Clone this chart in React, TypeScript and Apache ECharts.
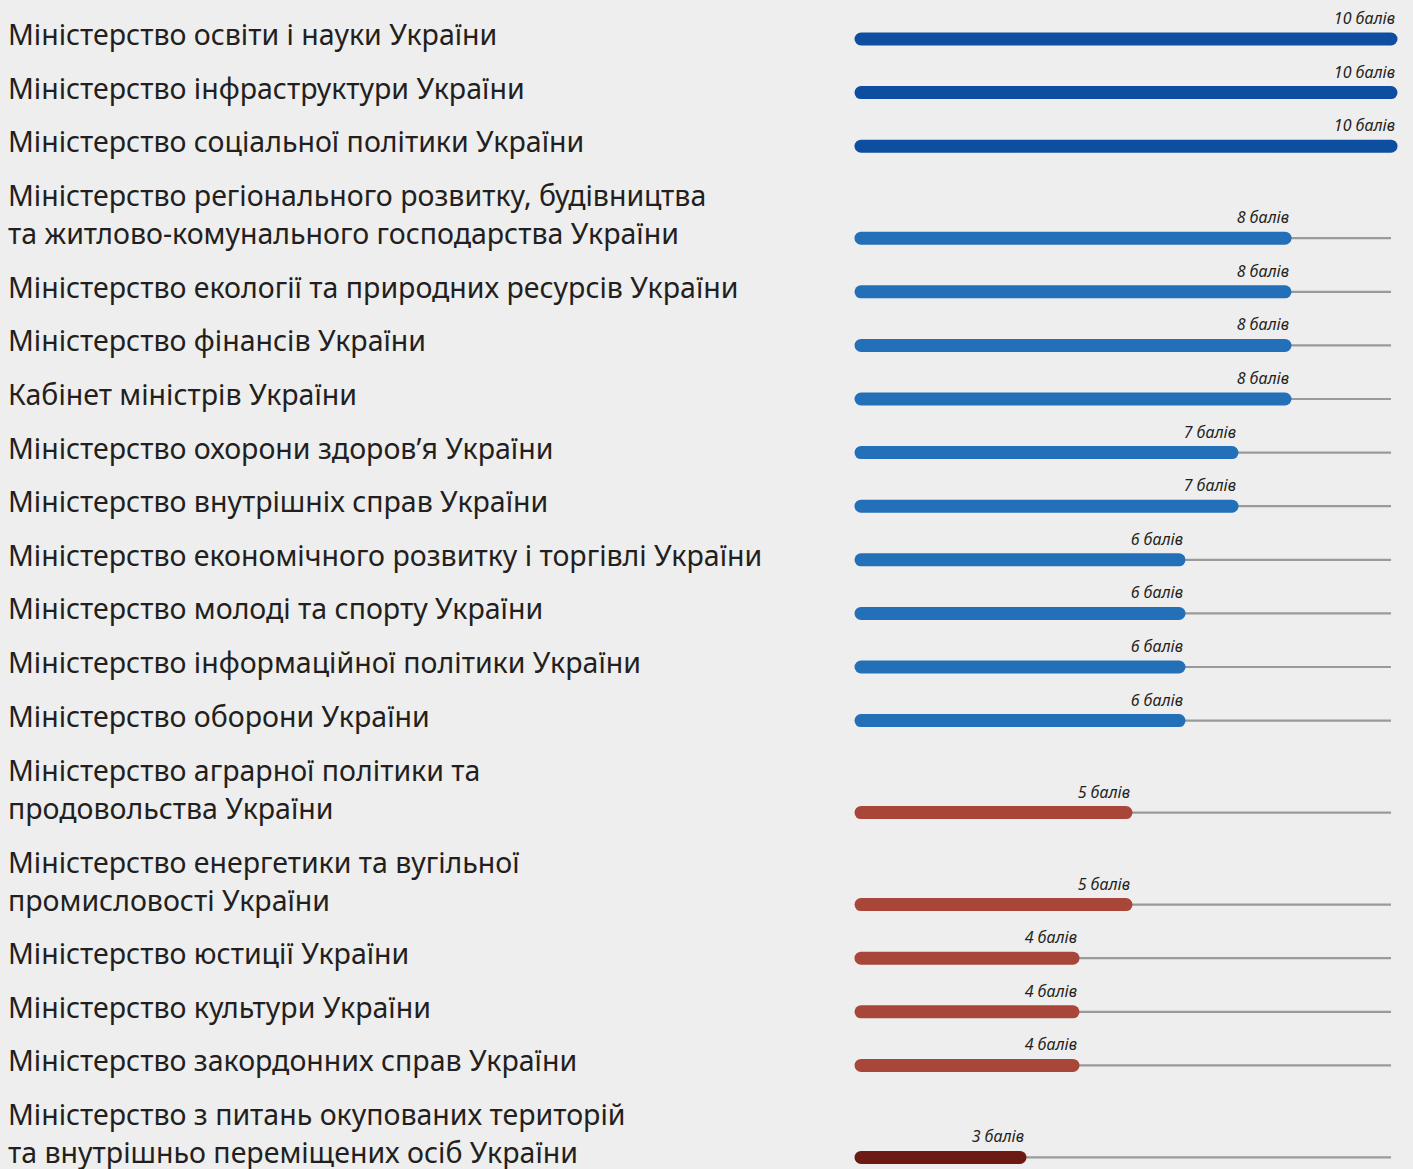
import React, { useEffect, useRef } from "react";
import * as echarts from "echarts";

const MINISTRIES: string[] = [
  "Міністерство освіти і науки України",
  "Міністерство інфраструктури України",
  "Міністерство соціальної політики України",
  "Міністерство регіонального розвитку, будівництва\nта житлово-комунального господарства України",
  "Міністерство екології та природних ресурсів України",
  "Міністерство фінансів України",
  "Кабінет міністрів України",
  "Міністерство охорони здоров’я України",
  "Міністерство внутрішніх справ України",
  "Міністерство економічного розвитку і торгівлі України",
  "Міністерство молоді та спорту України",
  "Міністерство інформаційної політики України",
  "Міністерство оборони України",
  "Міністерство аграрної політики та\nпродовольства України",
  "Міністерство енергетики та вугільної\nпромисловості України",
  "Міністерство юстиції України",
  "Міністерство культури України",
  "Міністерство закордонних справ України",
  "Міністерство з питань окупованих територій\nта внутрішньо переміщених осіб України",
];

const SCORES: number[] = [10, 10, 10, 8, 8, 8, 8, 7, 7, 6, 6, 6, 6, 5, 5, 4, 4, 4, 3];

const UNIT_LABEL = "балів";
const MAX_SCORE = 10;

// layout units: one text row, plus extra for each additional label line
const ROW_STEP = 53.6;
const EXTRA_LINE = 38.4;

function colorFor(score: number): string {
  if (score >= 10) return "#0e4ea0";
  if (score >= 6) return "#2370b9";
  if (score >= 4) return "#a84739";
  return "#6d1a14";
}

export default function App() {
  const ref = useRef<HTMLDivElement>(null);

  useEffect(() => {
    document.body.style.margin = "0";
    if (!ref.current) return;
    const chart = echarts.init(ref.current, null, { renderer: "svg" });

    const positions: number[] = [];
    let acc = 0;
    MINISTRIES.forEach((name, i) => {
      const lines = name.split("\n").length;
      if (i > 0) acc += ROW_STEP + (lines - 1) * EXTRA_LINE;
      positions.push(acc);
    });
    const data = SCORES.map((s, i) => [s, positions[i], i]);

    const option: any = {
      animation: false,
      backgroundColor: "#eeeeee",
      grid: { left: 861, right: 1413 - 1391, top: 39, height: positions[positions.length - 1], containLabel: false },
      xAxis: { type: "value", min: 0, max: MAX_SCORE, show: false },
      yAxis: { type: "value", min: 0, max: positions[positions.length - 1], inverse: true, show: false },
      series: [
        {
          type: "custom",
          clip: false,
          encode: { x: 0, y: 1 },
          data,
          renderItem: (params: any, api: any) => {
            const score = api.value(0);
            const pos = api.value(1);
            const idx = api.value(2);
            const start = api.coord([0, pos]);
            const end = api.coord([score, pos]);
            const full = api.coord([MAX_SCORE, pos]);
            const y = start[1];
            return {
              type: "group",
              children: [
                {
                  type: "line",
                  shape: { x1: start[0], y1: y, x2: full[0], y2: y },
                  style: { stroke: "#9a9a9a", lineWidth: 2.2 },
                },
                {
                  type: "line",
                  shape: { x1: start[0], y1: y, x2: end[0], y2: y },
                  style: { stroke: colorFor(score), lineWidth: 13, lineCap: "round" },
                },
                {
                  type: "text",
                  style: {
                    x: end[0] + 4,
                    y: y - 21,
                    text: `${score} ${UNIT_LABEL}`,
                    align: "right",
                    verticalAlign: "middle",
                    fontFamily: "Noto Sans",
                    fontStyle: "italic",
                    fontSize: 16,
                    fill: "#231f20",
                  },
                },
                {
                  type: "text",
                  style: {
                    x: 8,
                    y: y + 14,
                    text: MINISTRIES[idx],
                    align: "left",
                    verticalAlign: "bottom",
                    lineHeight: 38,
                    fontFamily: "Noto Sans",
                    fontSize: 28.5,
                    fill: "#231f20",
                  },
                },
              ],
            };
          },
        },
      ],
    };
    chart.setOption(option);
    return () => chart.dispose();
  }, []);

  return <div ref={ref} style={{ width: 1413, height: 1169 }} />;
}
